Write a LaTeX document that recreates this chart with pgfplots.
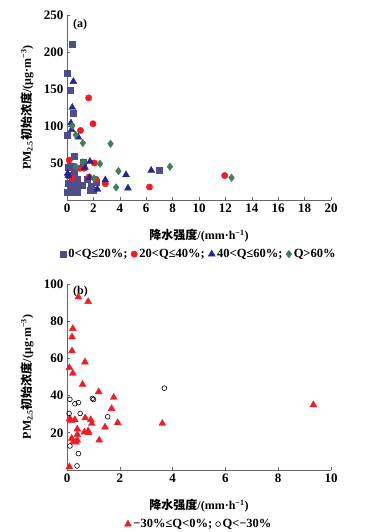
\documentclass[border=0pt]{standalone}
\usepackage{pgfplots}
\pgfplotsset{compat=1.18}
\usepackage{fontspec}
\setmainfont{Liberation Serif}
\newfontfamily\cjk{Noto Sans CJK SC}
\definecolor{csq}{RGB}{78,78,138}
\definecolor{cred}{RGB}{240,28,36}
\definecolor{ctri}{RGB}{36,36,150}
\definecolor{cdia}{RGB}{62,128,92}
\pgfplotsset{
  myaxis/.style={
    scale only axis, width=264pt,
    axis lines=left,
    axis line style={-, draw=gray!80!black, line width=0.8pt},
    tick style={draw=gray!80!black, line width=0.6pt},
    tick align=inside, major tick length=3pt,
    clip=false,
    /pgf/number format/assume math mode=true,
    tick label style={font=\fontsize{13}{15}\selectfont\bfseries},
    label style={font=\fontsize{12}{14}\selectfont\bfseries},
    ylabel={PM\textsubscript{2.5}{\cjk\bfseries 初始浓度}/(μg·m\textsuperscript{−3})},
    xlabel={{\cjk\bfseries 降水强度}/(mm·h\textsuperscript{−1})},
    ylabel style={at={(rel axis cs:0,0.5)}, anchor=south, yshift=30pt},
    xlabel style={at={(rel axis cs:0.5,0)}, anchor=north, yshift=-26pt},
    legend style={draw=none, fill=none, font=\fontsize{12.5}{14}\selectfont\bfseries,
      legend columns=-1, at={(0.5,0)}, anchor=north, yshift=-47pt,
      /tikz/every even column/.append style={column sep=1.5pt},
      inner sep=0pt},
    legend cell align=left,
  }
}
\begin{document}
\begin{tikzpicture}
\path (0pt,0pt) rectangle (366pt,532pt);
\begin{axis}[myaxis, at={(67pt,332pt)}, anchor=south west, height=185pt,
  xmin=0, xmax=20, ymin=0, ymax=250,
  xtick={0,2,...,20}, ytick={50,100,...,250}]
\addplot[only marks, mark=square*, mark size=3pt, color=csq] coordinates {
(0.4,210)(0.05,172)(0.25,149)(0.48,117)(0.05,88)(0.55,59)(1.2,51)(0.08,44)(0.35,45)
(0.55,37)(0.4,27)(0.75,28)(0.1,23)(0.3,18)(0.75,19)(1.18,20)(1.55,28)(1.85,19)
(1.95,13.5)(2.2,24)(0.05,11)(0.35,10)(0.8,11)(1.75,13)(6.95,40)(0.45,22)(0.15,33)};
\addlegendentry{0<Q≤20\%;}
\addplot[only marks, mark=*, mark size=3.2pt, color=cred] coordinates {
(1.64,138)(1.97,103)(1.02,94)(0.17,54)(2.07,50)(0.98,43)(1.3,43)(1.67,31)(0.4,30)
(2.2,28)(2.9,22)(6.25,17.5)(11.95,33)};
\addlegendentry{20<Q≤40\%;}
\addplot[only marks, mark=triangle*, mark size=4pt, color=ctri] coordinates {
(0.48,160)(0.4,125)(0.3,104)(0.35,95)(0.85,85)(1.74,52)(1.36,44)(0.05,36)(0.1,33)
(1.7,30)(2.9,27)(2.3,14.5)(4.47,34)(4.62,16)(6.38,40)};
\addlegendentry{40<Q≤60\%;}
\addplot[only marks, mark=diamond*, mark size=3.8pt, color=cdia] coordinates {
(0.4,100)(0.66,88)(1.2,77)(3.3,76)(0.68,45)(1.2,51)(2.5,49)(3.9,39)(2.05,29)
(3.72,17)(7.8,45)(12.47,30)};
\addlegendentry{Q>60\%}
\node[anchor=west, font=\fontsize{12}{14}\selectfont\bfseries] at (rel axis cs:0.01,0.95) {(a)};
\end{axis}
\begin{axis}[myaxis, at={(67pt,62pt)}, anchor=south west, height=186pt,
  xmin=0, xmax=10, ymin=0, ymax=100,
  xtick={0,2,...,10}, ytick={20,40,...,100}]
\addplot[only marks, mark=triangle*, mark size=4pt, color=cred] coordinates {
(0.43,93)(0.8,90.5)(0.22,76)(0.19,71.5)(0.19,64)(0.09,55)(0.22,52)(0.68,58)(0.59,46)
(1.2,42)(1.77,39)(1.69,33)(9.33,35)(0.1,27.5)(0.16,26.5)(0.3,27)(0.69,28)(0.9,27)
(0.94,25)(1.92,25.4)(3.61,25)(0.39,22)(1.44,23)(0.66,20.4)(0.8,21)(0.82,20)(0.39,19)
(0.18,17)(0.24,15.2)(0.34,15)(0.39,16)(1.22,16)(0.09,1.7)};
\addlegendentry{−30\%≤Q<0\%;}
\addplot[only marks, mark=o, mark size=2.4pt, color=black, line width=0.6pt] coordinates {
(3.69,44)(0.11,38)(0.3,35.6)(0.43,36.2)(0.96,38.5)(1.0,37.9)(0.08,30.4)(0.5,30.4)
(1.54,28.6)(0.11,12.9)(0.43,8.8)(0.38,2.2)};
\addlegendentry{Q<−30\%}
\node[anchor=west, font=\fontsize{12}{14}\selectfont\bfseries] at (rel axis cs:0.01,0.96) {(b)};
\end{axis}
\end{tikzpicture}
\end{document}
